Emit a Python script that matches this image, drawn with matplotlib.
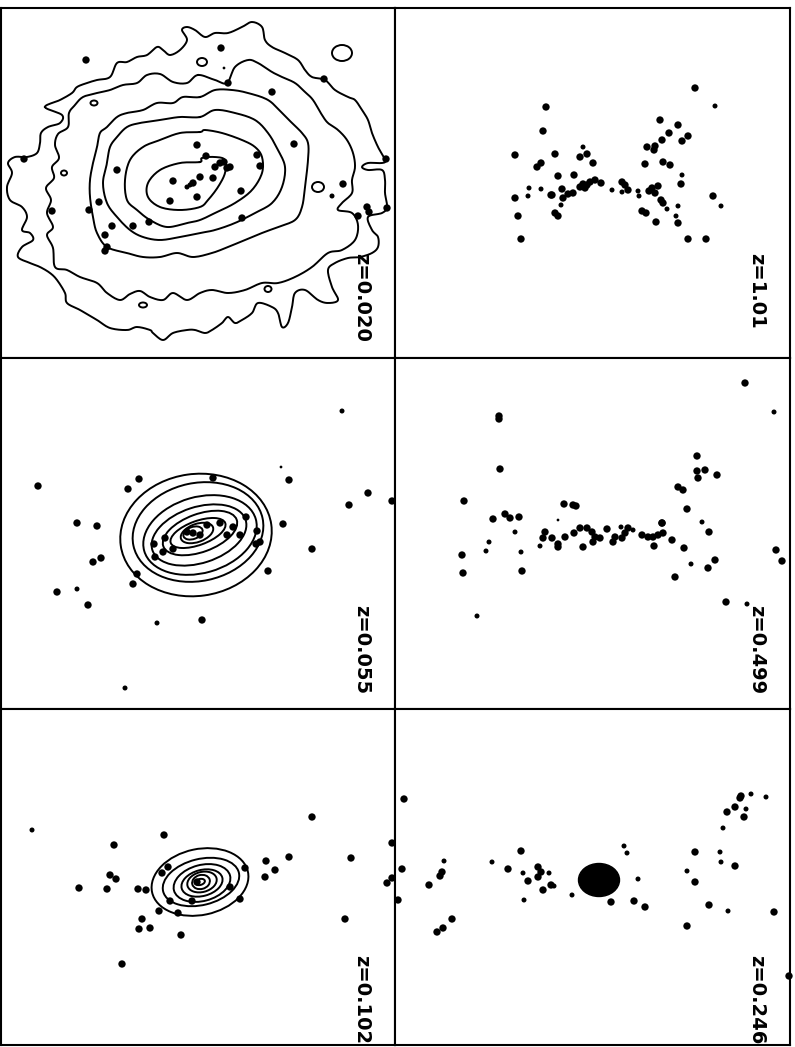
import numpy as np
import matplotlib
matplotlib.use("Agg")
import matplotlib.pyplot as plt
from matplotlib.patches import Ellipse

# all positions are in the pixel grid of the original plate (x right, y down)

# ---- panel z=0.020 : wiggly isophotes + galaxies ----
a_x = [86, 221, 224, 228, 324, 272, 294, 257, 260, 386, 343, 332, 387, 367, 369, 358, 24, 52, 89, 99,
       117, 112, 133, 149, 105, 107, 105, 197, 206, 173, 170, 197, 193, 200, 187, 190, 215, 213, 220,
       224, 227, 230, 241, 242]
a_y = [60, 48, 68, 83, 79, 92, 144, 155, 166, 159, 184, 196, 208, 207, 212, 216, 159, 211, 210, 202,
       170, 226, 226, 222, 235, 247, 251, 145, 156, 181, 201, 197, 183, 177, 187, 185, 167, 178, 163,
       162, 168, 167, 191, 218]
a_m = [1, 1, 3, 1, 1, 1, 1, 1, 1, 1, 1, 2, 1, 1, 1, 1, 1, 1, 1, 1,
       1, 1, 1, 1, 1, 1, 1, 1, 1, 1, 1, 1, 1, 1, 2, 2, 1, 1, 1,
       1, 1, 1, 1, 1]

a_iso1 = [(45, 107), (60, 100), (72, 93), (77, 87), (87, 83), (97, 80), (110, 77), (117, 63), (127, 62),
          (137, 57), (147, 55), (157, 47), (163, 50), (170, 55), (180, 50), (187, 40), (182, 30),
          (187, 27), (195, 30), (205, 37), (215, 33), (228, 33), (242, 27), (252, 22), (262, 27),
          (265, 40), (272, 47), (285, 53), (298, 60), (305, 70), (312, 77), (325, 80), (335, 90),
          (348, 97), (355, 100), (362, 110), (368, 120), (372, 133), (378, 147), (385, 160),
          (382, 163), (368, 163), (362, 167), (368, 170), (382, 170), (385, 180), (385, 193),
          (387, 207), (382, 213), (368, 217), (372, 230), (378, 237), (378, 247), (372, 253),
          (360, 257), (348, 258), (335, 263), (328, 270), (332, 287), (338, 300), (328, 303),
          (318, 300), (305, 290), (295, 293), (292, 307), (288, 323), (282, 327), (278, 313),
          (272, 307), (258, 303), (252, 313), (242, 320), (235, 323), (228, 317), (222, 323),
          (212, 330), (205, 333), (195, 330), (187, 330), (173, 333), (163, 340), (153, 333),
          (150, 330), (137, 327), (127, 330), (110, 328), (97, 320), (80, 310), (67, 303), (65, 293),
          (57, 280), (50, 273), (40, 267), (30, 263), (18, 257), (22, 247), (33, 240), (30, 233),
          (22, 230), (27, 217), (22, 207), (10, 200), (7, 187), (12, 173), (8, 163), (15, 157),
          (27, 157), (37, 153), (40, 143), (41, 133), (48, 127), (60, 123), (62, 115)]
a_iso2 = [(198, 75), (187, 83), (173, 82), (160, 74), (147, 75), (137, 83), (123, 85), (110, 90), (97, 93),
          (83, 97), (75, 105), (69, 113), (68, 127), (58, 134), (55, 145), (59, 158), (52, 167),
          (54, 178), (46, 188), (51, 200), (47, 213), (53, 227), (47, 235), (53, 248), (55, 267),
          (67, 270), (80, 277), (97, 283), (107, 293), (120, 300), (130, 294), (140, 291), (150, 297),
          (163, 300), (173, 293), (187, 300), (200, 293), (212, 290), (228, 293), (245, 290),
          (262, 283), (278, 283), (295, 277), (312, 267), (328, 253), (342, 250), (355, 240),
          (358, 225), (352, 213), (338, 210), (342, 203), (352, 193), (352, 180), (355, 167),
          (353, 153), (347, 140), (338, 130), (328, 123), (322, 115), (313, 100), (305, 92),
          (295, 83), (282, 77), (272, 72), (258, 63), (248, 60), (235, 67), (227, 83), (215, 80)]
a_iso3 = [(200, 97), (183, 97), (173, 103), (157, 103), (143, 110), (127, 113), (117, 117), (107, 127),
          (100, 133), (97, 147), (93, 163), (90, 180), (90, 197), (93, 217), (97, 233), (107, 247),
          (127, 253), (143, 257), (160, 257), (177, 253), (193, 257), (212, 253), (228, 247),
          (245, 240), (262, 233), (278, 227), (295, 220), (302, 207), (305, 187), (308, 160),
          (308, 143), (302, 133), (292, 123), (282, 113), (268, 100), (248, 93), (232, 90), (215, 90)]
a_iso4 = [(200, 117), (180, 117), (160, 120), (140, 123), (127, 127), (117, 137), (110, 147), (107, 163),
          (103, 183), (107, 203), (117, 217), (130, 230), (143, 237), (160, 240), (180, 237),
          (200, 233), (215, 230), (235, 223), (255, 213), (272, 203), (282, 187), (285, 167),
          (278, 150), (268, 133), (255, 120), (235, 113), (215, 110)]
a_iso5 = [(200, 132), (180, 133), (160, 140), (143, 147), (130, 160), (125, 180), (127, 200), (137, 210),
          (150, 220), (167, 227), (187, 223), (200, 220), (215, 213), (235, 203), (252, 190),
          (262, 173), (262, 157), (255, 147), (242, 140), (222, 133), (205, 130)]
a_iso6 = [(200, 162), (180, 163), (160, 170), (148, 183), (148, 197), (160, 207), (180, 210), (200, 207),
          (208, 200), (218, 187), (225, 173), (225, 160), (215, 157), (202, 158)]
# small detached isophote islands: centre x, centre y, width, height
a_isl_x = [342, 202, 94, 64, 318, 268, 143]
a_isl_y = [53, 62, 103, 173, 187, 289, 305]
a_isl_w = [20, 10, 7, 6, 12, 7, 8]
a_isl_h = [16, 8, 5, 5, 10, 6, 5]

# ---- panel z=0.055 ----
b_x = [342, 38, 139, 128, 213, 281, 289, 368, 349, 392, 77, 97, 283, 312, 101, 93, 268, 57, 77, 88,
       157, 202, 125, 133, 137, 155, 163, 154, 173, 165, 220, 233, 246, 257, 260, 256, 227, 240,
       193, 200, 207, 187]
b_y = [411, 486, 479, 489, 478, 467, 480, 493, 505, 501, 523, 526, 524, 549, 558, 562, 571, 592, 589,
       605, 623, 620, 688, 584, 574, 557, 552, 544, 549, 538, 523, 527, 517, 531, 542, 544, 535, 535,
       533, 535, 525, 532]
b_m = [2, 1, 1, 1, 1, 3, 1, 1, 1, 1, 1, 1, 1, 1, 1, 1, 1, 1, 2, 1,
       2, 1, 2, 1, 1, 1, 1, 1, 1, 1, 1, 1, 1, 1, 1, 1, 1, 1,
       1, 1, 1, 1]
b_cx = [196, 198, 200, 199, 200, 198, 197, 193]
b_cy = [535, 532, 535, 535, 533, 533, 533, 533]
b_a = [76, 66, 58, 49, 39, 29, 17, 10]
b_b = [61, 49, 38, 28, 19, 12, 9, 6]
b_ang = [8, 12, 16, 18, 20, 20, 20, 20]

# ---- panel z=0.102 ----
c_x = [32, 114, 164, 312, 289, 266, 275, 265, 351, 392, 387, 392, 79, 107, 110, 116, 138, 146, 159,
       142, 139, 150, 181, 122, 345, 240, 245, 178, 192, 170, 162, 168, 230, 197]
c_y = [830, 845, 835, 817, 857, 861, 870, 877, 858, 843, 883, 878, 888, 889, 875, 879, 889, 890, 911,
       919, 929, 928, 935, 964, 919, 899, 868, 913, 901, 901, 873, 867, 887, 882]
c_m = [2, 1, 1, 1, 1, 1, 1, 1, 1, 1, 1, 1, 1, 1, 1, 1, 1, 1, 1,
       1, 1, 1, 1, 1, 1, 1, 1, 1, 1, 1, 1, 1, 1, 1]
c_cx = [200, 201, 202, 202, 202, 201, 200]
c_cy = [882, 882, 883, 883, 882, 882, 882]
c_a = [49, 39, 29, 21, 15, 9, 5]
c_b = [33, 23, 18, 13, 10, 7, 3]
c_ang = [12, 14, 15, 15, 15, 15, 15]

# ---- panel z=1.01 ----
d_x = [695, 715, 546, 543, 660, 678, 669, 662, 688, 682, 647, 655, 654, 583, 587, 580, 515, 555, 541,
       537, 593, 645, 663, 670, 574, 682, 558, 681, 529, 541, 562, 551, 515, 528, 563, 568, 573, 580,
       583, 587, 590, 595, 601, 585, 612, 622, 625, 622, 628, 638, 639, 652, 655, 658, 649, 713, 721,
       661, 663, 667, 678, 642, 646, 656, 676, 678, 555, 558, 561, 518, 521, 688, 706, 552]
d_y = [88, 106, 107, 131, 120, 125, 133, 140, 136, 141, 147, 146, 150, 147, 154, 157, 155, 154, 163,
       167, 163, 164, 162, 165, 175, 175, 176, 184, 188, 189, 189, 195, 198, 196, 198, 194, 193, 187,
       184, 185, 182, 180, 183, 188, 190, 182, 185, 192, 190, 191, 196, 188, 193, 186, 191, 196, 206,
       200, 203, 209, 206, 211, 213, 222, 216, 223, 213, 216, 205, 216, 239, 239, 239, 195]
d_m = [1, 2, 1, 1, 1, 1, 1, 1, 1, 1, 1, 1, 1, 2, 1, 1, 1, 1, 1,
       1, 1, 1, 1, 1, 1, 2, 1, 1, 2, 2, 1, 1, 1, 2, 1, 1, 1, 1,
       1, 1, 1, 1, 1, 1, 2, 1, 1, 2, 1, 2, 2, 1, 1, 1, 1, 1, 2,
       1, 1, 2, 2, 1, 1, 1, 2, 1, 1, 1, 2, 1, 1, 1, 1, 1]

# ---- panel z=0.499 ----
e_x = [745, 774, 499, 499, 500, 697, 697, 705, 698, 717, 678, 683, 687, 464, 493, 505, 510, 519, 515,
       564, 573, 576, 558, 702, 662, 709, 489, 486, 462, 521, 463, 522, 540, 545, 543, 552, 558, 558,
       565, 574, 583, 580, 587, 592, 595, 593, 600, 607, 613, 615, 622, 625, 621, 628, 633, 642, 648,
       653, 658, 663, 662, 654, 672, 684, 691, 715, 708, 675, 776, 782, 726, 747, 477]
e_y = [383, 412, 416, 419, 469, 456, 471, 470, 478, 475, 487, 490, 509, 501, 519, 514, 518, 517, 532,
       504, 505, 506, 520, 522, 523, 532, 542, 551, 555, 552, 573, 571, 546, 532, 538, 538, 544, 547,
       537, 533, 547, 528, 528, 532, 537, 542, 538, 529, 542, 537, 538, 533, 527, 528, 530, 535, 537,
       537, 535, 533, 523, 546, 540, 548, 564, 560, 568, 577, 550, 561, 602, 604, 616]
e_m = [1, 2, 1, 1, 1, 1, 1, 1, 1, 1, 1, 1, 1, 1, 1, 1, 1, 1, 2,
       1, 1, 1, 3, 2, 1, 1, 2, 2, 1, 2, 1, 1, 2, 1, 1, 1, 1, 1,
       1, 1, 1, 1, 1, 1, 1, 1, 1, 1, 1, 1, 1, 1, 2, 1, 2, 1, 1,
       1, 1, 1, 1, 1, 1, 1, 2, 1, 1, 1, 1, 1, 1, 2, 2]

# ---- panel z=0.246 ----
f_x = [404, 402, 398, 444, 442, 440, 429, 452, 443, 437, 492, 508, 521, 523, 528, 538, 538, 541, 549,
       551, 543, 554, 524, 572, 624, 627, 638, 611, 634, 645, 687, 687, 695, 695, 720, 721, 735, 709,
       728, 774, 723, 727, 735, 740, 741, 751, 766, 746, 744, 789]
f_y = [799, 869, 900, 861, 872, 876, 885, 919, 928, 932, 862, 869, 851, 873, 881, 867, 877, 872, 873,
       885, 890, 886, 900, 895, 846, 853, 879, 902, 901, 907, 926, 871, 852, 882, 852, 862, 866, 905,
       911, 912, 828, 812, 807, 798, 796, 794, 797, 809, 817, 976]
f_m = [1, 1, 1, 2, 1, 1, 1, 1, 1, 1, 2, 1, 1, 2, 1, 1, 1, 1, 2,
       1, 1, 2, 2, 2, 2, 2, 2, 1, 1, 1, 1, 2, 1, 1, 2, 2, 1, 1,
       2, 1, 2, 1, 1, 1, 1, 2, 2, 2, 1, 1]
# the saturated central galaxy: x, y, width, height
f_blob = (599, 880, 41, 33)

labels = ["z=0.020", "z=1.01", "z=0.055", "z=0.499", "z=0.102", "z=0.246"]

W, H = 795, 1047
cols = [(1, 395), (395, 790)]
rows = [(8, 358), (358, 709), (709, 1045)]
label_x = [362, 757]
label_top = [253, 605, 955]
dot_size = {1: 28, 2: 13, 3: 4}


def smooth_closed(pts, n=10):
    # closed Catmull-Rom spline through the traced vertices
    p = np.array(pts, dtype=float)
    P = np.vstack([p[-1], p, p[0], p[1]])
    t = np.linspace(0, 1, n, endpoint=False)[:, None]
    out = []
    for i in range(1, len(p) + 1):
        p0, p1, p2, p3 = P[i - 1], P[i], P[i + 1], P[i + 2]
        out.append(0.5 * (2 * p1 + (-p0 + p2) * t + (2 * p0 - 5 * p1 + 4 * p2 - p3) * t ** 2
                          + (-p0 + 3 * p1 - 3 * p2 + p3) * t ** 3))
    out = np.vstack(out + [out[0][:1]])
    return out[:, 0], out[:, 1]


def draw_ellipses(ax, cx, cy, a, b, ang):
    for x0, y0, aa, bb, an in zip(cx, cy, a, b, ang):
        ax.add_patch(Ellipse((x0, y0), 2 * aa, 2 * bb, angle=-an, fill=False,
                             edgecolor="black", linewidth=1.4))


def draw_dots(ax, xs, ys, ms):
    ax.scatter(xs, ys, s=[dot_size[m] for m in ms], c="black", linewidths=0, clip_on=False, zorder=3)


fig = plt.figure(figsize=(W / 100, H / 100), dpi=100)
axes = []
for r, (y0, y1) in enumerate(rows):
    for c, (x0, x1) in enumerate(cols):
        ax = fig.add_axes([x0 / W, 1 - y1 / H, (x1 - x0) / W, (y1 - y0) / H])
        ax.set_xlim(x0, x1)
        ax.set_ylim(y1, y0)
        ax.set_xticks([])
        ax.set_yticks([])
        for sp in ax.spines.values():
            sp.set_linewidth(1.5)
        ax.text(label_x[c], label_top[r], labels[r * 2 + c], rotation=270, ha="center", va="top",
                fontsize=14, fontweight="bold", family="DejaVu Sans")
        axes.append(ax)

axA, axD, axB, axE, axC, axF = axes

for iso in [a_iso1, a_iso2, a_iso3, a_iso4, a_iso5, a_iso6]:
    xs, ys = smooth_closed(iso)
    axA.plot(xs, ys, color="black", lw=1.4)
for x0, y0, w, h in zip(a_isl_x, a_isl_y, a_isl_w, a_isl_h):
    axA.add_patch(Ellipse((x0, y0), w, h, fill=False, edgecolor="black", linewidth=1.4))
draw_dots(axA, a_x, a_y, a_m)

draw_ellipses(axB, b_cx, b_cy, b_a, b_b, b_ang)
draw_dots(axB, b_x, b_y, b_m)

draw_ellipses(axC, c_cx, c_cy, c_a, c_b, c_ang)
draw_dots(axC, c_x, c_y, c_m)

draw_dots(axD, d_x, d_y, d_m)
draw_dots(axE, e_x, e_y, e_m)
draw_dots(axF, f_x, f_y, f_m)
axF.add_patch(Ellipse(f_blob[:2], f_blob[2], f_blob[3], color="black"))

fig.savefig("out.png", dpi=100)
